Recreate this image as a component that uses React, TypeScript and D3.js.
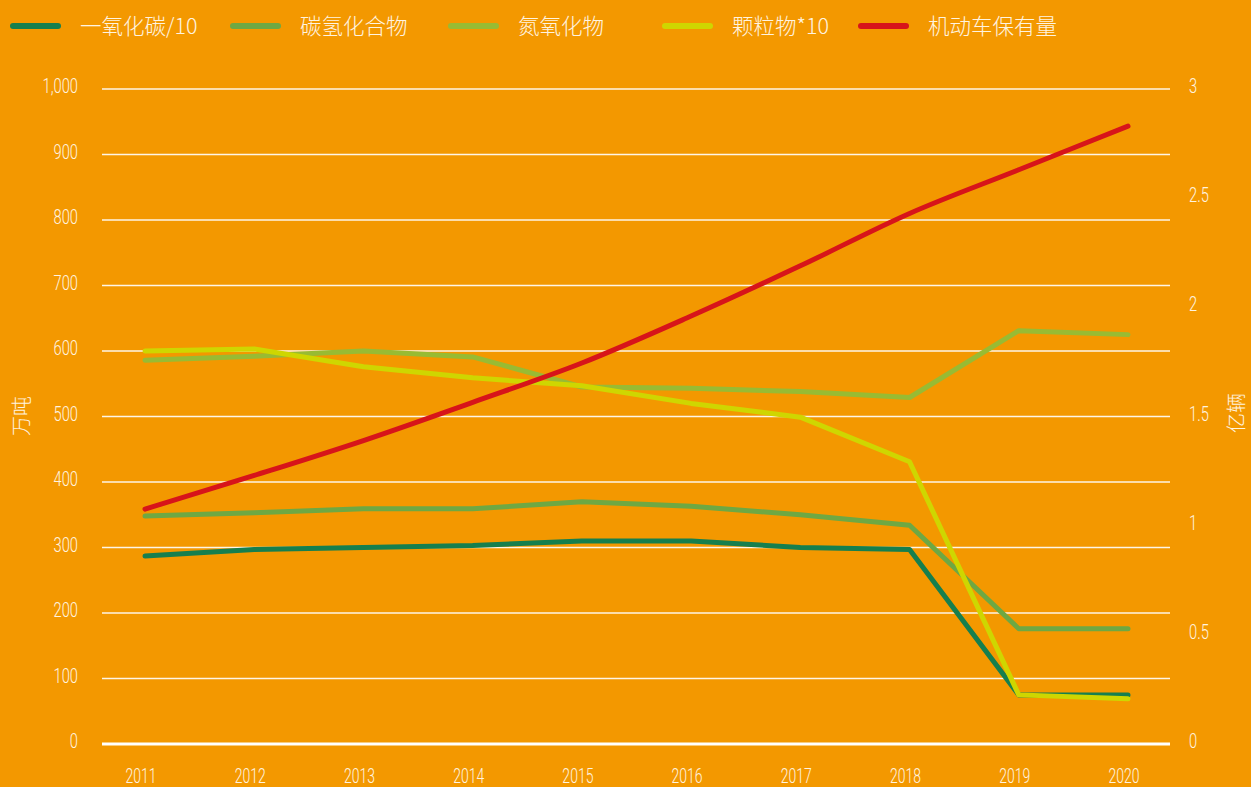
import React from "react";
import * as d3 from "d3";

const years = ["2011", "2012", "2013", "2014", "2015", "2016", "2017", "2018", "2019", "2020"];
const coDiv10 = [287, 297, 300, 303, 310, 310, 300, 297, 75, 75];
const hydrocarbons = [348, 353, 359, 359, 370, 363, 350, 334, 176, 176];
const nox = [586, 592, 600, 591, 545, 543, 538, 529, 631, 625];
const pmTimes10 = [600, 603, 576, 559, 547, 520, 499, 431, 75, 69];
const vehicles = [1.076, 1.23, 1.39, 1.565, 1.745, 1.96, 2.19, 2.43, 2.63, 2.83];

const leftTicks = [0, 100, 200, 300, 400, 500, 600, 700, 800, 900, 1000];
const rightTicks = [0, 0.5, 1, 1.5, 2, 2.5, 3];

const seriesNames = ["一氧化碳/10", "碳氢化合物", "氮氧化物", "颗粒物*10", "机动车保有量"];
const seriesColors = ["#167f4e", "#6ea843", "#98bb33", "#cfd600", "#d7141a"];

const W = 1251;
const H = 787;
const FONT = "'Roboto', 'Noto Sans CJK SC', sans-serif";
const CJK = "'Noto Sans CJK SC', sans-serif";
const TXT = "#fff4e0";
const SX = 0.7;

function NarrowText(props: {
  x: number;
  y: number;
  anchor: string;
  size: number;
  children: React.ReactNode;
}) {
  return (
    <text
      transform={`translate(${props.x},${props.y}) scale(${SX},1)`}
      textAnchor={props.anchor}
      fontFamily={FONT}
      fontWeight={300}
      fontSize={props.size}
      fill={TXT}
    >
      {props.children}
    </text>
  );
}

export default function App() {
  const x = d3.scalePoint<string>().domain(years).range([145, 1128]);
  const yL = d3.scaleLinear().domain([0, 1000]).range([744, 89]);
  const yR = d3.scaleLinear().domain([0, 3]).range([744, 89]);

  const leftSeries = [coDiv10, hydrocarbons, nox, pmTimes10];
  const lineL = d3
    .line<number>()
    .x((_, i) => x(years[i]) as number)
    .y((d) => yL(d));
  const lineR = d3
    .line<number>()
    .x((_, i) => x(years[i]) as number)
    .y((d) => yR(d))
    .curve(d3.curveMonotoneX);

  const legendX = [10, 230, 448, 662, 858];

  return (
    <svg
      width={W}
      height={H}
      style={{ position: "absolute", left: 0, top: 0, display: "block" }}
    >
      <rect x={0} y={0} width={W} height={H} fill="#f39800" />
      {/* grid */}
      {leftTicks.map((t) => (
        <line
          key={"g" + t}
          x1={102}
          x2={1170}
          y1={yL(t)}
          y2={yL(t)}
          stroke="#ffffff"
          strokeOpacity={t === 0 ? 1 : 0.9}
          strokeWidth={t === 0 ? 3 : 1.3}
        />
      ))}
      {/* left tick labels */}
      {leftTicks.map((t) => (
        <NarrowText key={"l" + t} x={78} y={yL(t) + 4} anchor="end" size={21}>
          {d3.format(",")(t)}
        </NarrowText>
      ))}
      {/* right tick labels */}
      {rightTicks.map((t) => (
        <NarrowText key={"r" + t} x={1189} y={yR(t) + 4} anchor="start" size={21}>
          {String(t)}
        </NarrowText>
      ))}
      {/* x labels */}
      {years.map((yv) => (
        <NarrowText key={"x" + yv} x={(x(yv) as number) - 4} y={783} anchor="middle" size={20}>
          {yv}
        </NarrowText>
      ))}
      {/* axis titles */}
      <text
        transform="translate(29,416) rotate(-90)"
        textAnchor="middle"
        fontFamily={CJK}
        fontWeight={300}
        fontSize={20}
        fill={TXT}
      >
        万吨
      </text>
      <text
        transform="translate(1244,413) rotate(-90)"
        textAnchor="middle"
        fontFamily={CJK}
        fontWeight={300}
        fontSize={20}
        fill={TXT}
      >
        亿辆
      </text>
      {/* lines */}
      {leftSeries.map((s, i) => (
        <path
          key={"s" + i}
          d={lineL(s) || ""}
          fill="none"
          stroke={seriesColors[i]}
          strokeWidth={5}
          strokeLinecap="round"
          strokeLinejoin="round"
        />
      ))}
      <path
        d={lineR(vehicles) || ""}
        fill="none"
        stroke={seriesColors[4]}
        strokeWidth={5}
        strokeLinecap="round"
        strokeLinejoin="round"
      />
      {/* legend */}
      {seriesNames.map((n, i) => (
        <g key={"lg" + i}>
          <line
            x1={legendX[i] + 3}
            x2={legendX[i] + 48}
            y1={26}
            y2={26}
            stroke={seriesColors[i]}
            strokeWidth={6}
            strokeLinecap="round"
          />
          <text
            x={legendX[i] + 70}
            y={34}
            fontFamily={CJK}
            fontWeight={300}
            fontSize={21.5}
            fill={TXT}
          >
            {n}
          </text>
        </g>
      ))}
    </svg>
  );
}
